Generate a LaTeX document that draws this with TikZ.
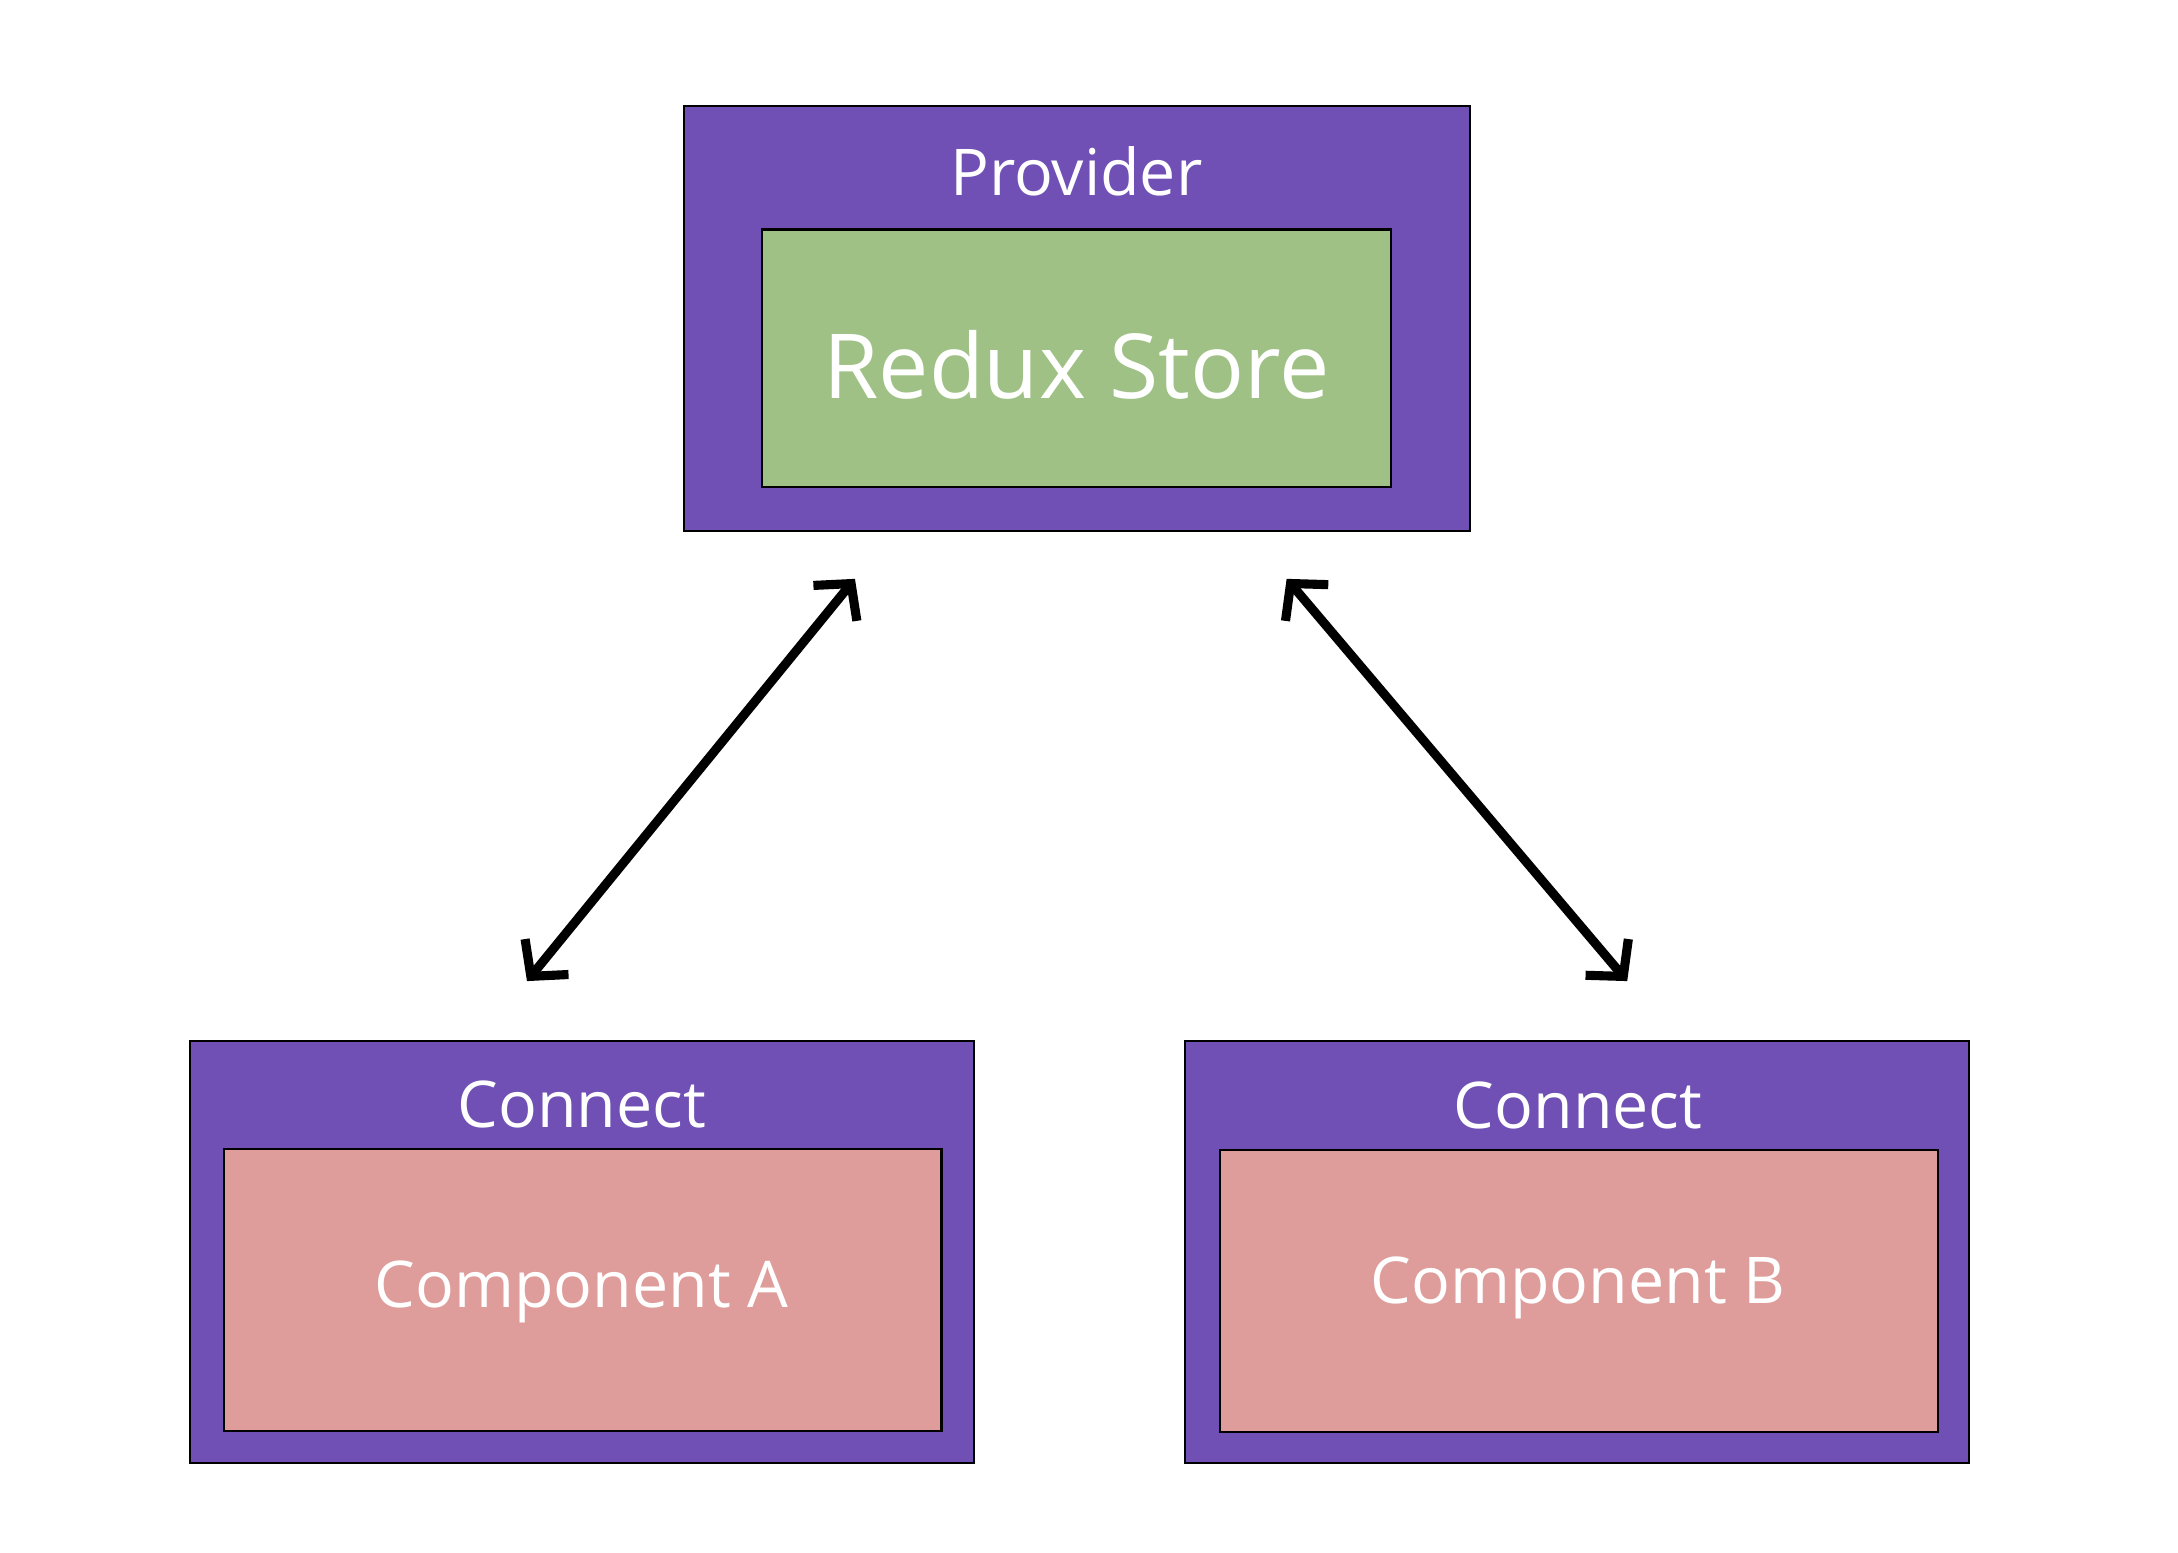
\documentclass[tikz,border=0pt]{standalone}
\usepackage{fontspec}
\setmainfont{Open Sans}
\usetikzlibrary{arrows.meta}
\definecolor{provpurple}{HTML}{7050B5}
\definecolor{storegreen}{HTML}{9FC186}
\definecolor{comppink}{HTML}{DE9C9A}
\tikzset{
  outerbox/.style={draw=black, line width=1.5pt, fill=provpurple, anchor=north west, inner sep=0pt},
  innerbox/.style={draw=black, line width=1.5pt, anchor=north west, inner sep=0pt},
  lbl/.style={text=white, inner sep=0pt, font=\fontsize{46}{54}\selectfont},
  biglbl/.style={text=white, inner sep=0pt, font=\fontsize{64}{74}\selectfont},
  dblarrow/.style={line width=6.5pt, {Straight Barb[length=18pt,width=40pt,line cap=butt,line join=miter]}-{Straight Barb[length=18pt,width=40pt,line cap=butt,line join=miter]}}
}
\begin{document}
\begin{tikzpicture}[x=1pt,y=-1pt]
\useasboundingbox (0,0) rectangle (1554,1108);
% Provider
\node[outerbox, minimum width=561pt, minimum height=303pt] (provider) at (487,75) {};
\node[innerbox, fill=storegreen, minimum width=449pt, minimum height=184pt] (store) at (543,163) {};
\node[lbl] (provtxt) at (768,122) {Provider};
\node[biglbl] (storetxt) at (768,260) {Redux Store};
% Connect A
\node[outerbox, minimum width=559pt, minimum height=301pt] (connA) at (135,742) {};
\node[innerbox, fill=comppink, minimum width=512pt, minimum height=201pt] (compA) at (159,819) {};
\node[lbl] (connAtxt) at (415,788) {Connect};
\node[lbl] (compAtxt) at (415,922) {Component A};
% Connect B
\node[outerbox, minimum width=559pt, minimum height=301pt] (connB) at (845,742) {};
\node[innerbox, fill=comppink, minimum width=512pt, minimum height=201pt] (compB) at (870,820) {};
\node[lbl] (connBtxt) at (1126,789) {Connect};
\node[lbl] (compBtxt) at (1126,919) {Component B};
% arrows
\coordinate (a1top) at (610,413);
\coordinate (a1bot) at (376,700);
\coordinate (a2top) at (918,413);
\coordinate (a2bot) at (1161,700);
\draw[dblarrow] (a1bot) -- (a1top);
\draw[dblarrow] (a2top) -- (a2bot);
\end{tikzpicture}
\end{document}
